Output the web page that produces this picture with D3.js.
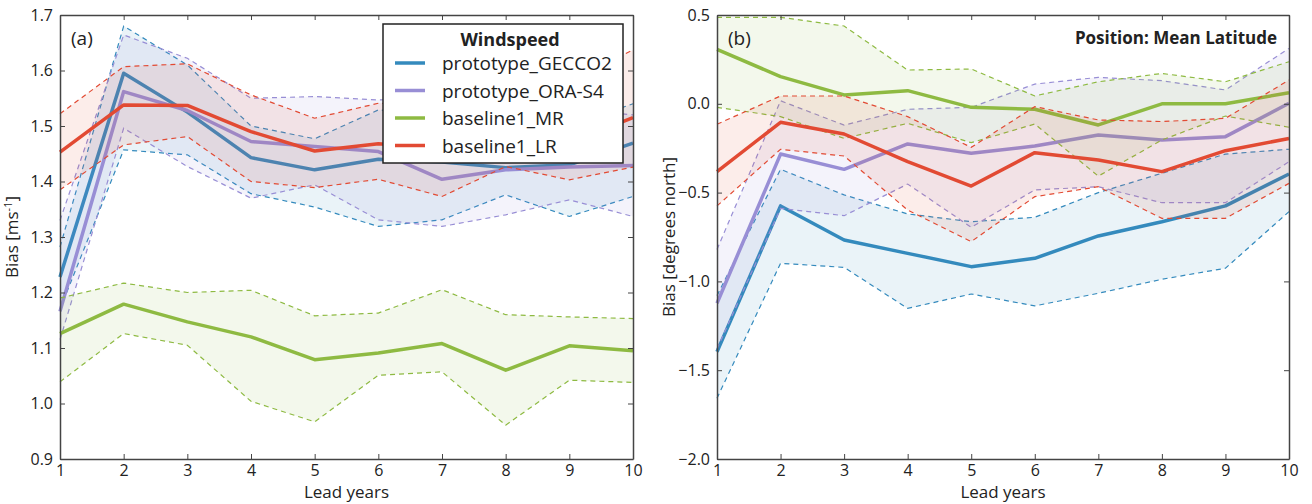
<!DOCTYPE html>
<html>
<head>
<meta charset="utf-8">
<script src="https://cdn.jsdelivr.net/npm/d3@7"></script>
<style>
  body { margin: 0; background: #fff; }
  text { font-family: "Open Sans", "DejaVu Sans", sans-serif; fill: #222; }
</style>
</head>
<body>
<script>
var leadYears = [1, 2, 3, 4, 5, 6, 7, 8, 9, 10];
var seriesNames = ["prototype_GECCO2", "prototype_ORA-S4", "baseline1_MR", "baseline1_LR"];
var colors = ["#348ABD", "#988ED5", "#8EBA42", "#E24A33"];

// panel (a) windspeed bias
var wsMean = [
  [1.228, 1.595, 1.525, 1.443, 1.421, 1.44, 1.435, 1.425, 1.43, 1.469],
  [1.166, 1.562, 1.528, 1.472, 1.463, 1.454, 1.404, 1.421, 1.426, 1.429],
  [1.126, 1.179, 1.147, 1.12, 1.079, 1.091, 1.108, 1.06, 1.104, 1.095],
  [1.453, 1.538, 1.537, 1.49, 1.455, 1.468, 1.46, 1.456, 1.47, 1.515]
];
var wsUpper = [
  [1.282, 1.68, 1.61, 1.5, 1.477, 1.529, 1.52, 1.51, 1.5, 1.54],
  [1.33, 1.664, 1.622, 1.55, 1.553, 1.547, 1.55, 1.54, 1.53, 1.52],
  [1.19, 1.217, 1.2, 1.204, 1.158, 1.163, 1.205, 1.16, 1.156, 1.153],
  [1.522, 1.607, 1.612, 1.556, 1.514, 1.541, 1.54, 1.56, 1.58, 1.637]
];
var wsLower = [
  [1.17, 1.457, 1.448, 1.378, 1.354, 1.319, 1.331, 1.376, 1.337, 1.373],
  [1.115, 1.496, 1.427, 1.37, 1.394, 1.331, 1.319, 1.34, 1.367, 1.337],
  [1.039, 1.126, 1.105, 1.004, 0.967, 1.051, 1.057, 0.961, 1.042, 1.038],
  [1.385, 1.466, 1.481, 1.4, 1.389, 1.404, 1.373, 1.427, 1.403, 1.426]
];

// panel (b) mean latitude bias
var latMean = [
  [-1.396, -0.575, -0.767, -0.842, -0.917, -0.87, -0.744, -0.664, -0.575, -0.395],
  [-1.123, -0.283, -0.369, -0.226, -0.279, -0.238, -0.176, -0.204, -0.185, 0.003],
  [0.307, 0.153, 0.05, 0.074, -0.02, -0.031, -0.119, 0.0, 0.0, 0.062],
  [-0.382, -0.104, -0.17, -0.326, -0.463, -0.275, -0.316, -0.382, -0.264, -0.195]
];
var latUpper = [
  [-1.08, -0.369, -0.513, -0.62, -0.664, -0.639, -0.5, -0.391, -0.283, -0.256],
  [-0.82, 0.017, -0.12, -0.031, -0.02, 0.111, 0.149, 0.13, 0.078, 0.312],
  [0.487, 0.487, 0.438, 0.19, 0.196, 0.044, 0.124, 0.171, 0.124, 0.237],
  [-0.115, 0.044, 0.044, -0.072, -0.245, -0.016, -0.091, -0.1, -0.082, 0.134]
];
var latLower = [
  [-1.658, -0.898, -0.921, -1.152, -1.071, -1.138, -1.067, -0.988, -0.926, -0.607],
  [-1.38, -0.589, -0.63, -0.452, -0.695, -0.485, -0.467, -0.557, -0.557, -0.326],
  [-0.02, -0.072, -0.195, -0.11, -0.219, -0.114, -0.407, -0.204, -0.069, -0.132],
  [-0.575, -0.256, -0.294, -0.598, -0.776, -0.523, -0.467, -0.645, -0.645, -0.448]
];

var wsTicks = [0.9, 1.0, 1.1, 1.2, 1.3, 1.4, 1.5, 1.6, 1.7];
var latTicks = [-2.0, -1.5, -1.0, -0.5, 0.0, 0.5];

var svg = d3.select("body").append("svg")
    .attr("width", 1312)
    .attr("height", 504);

function drawPanel(opts) {
  var x = d3.scaleLinear().domain([1, 10]).range([opts.left, opts.right]);
  var y = d3.scaleLinear().domain(opts.yDomain).range([459, 15]);
  var g = svg.append("g");

  var area = d3.area()
      .x(function(d, i) { return x(leadYears[i]); })
      .y0(function(d) { return y(d[0]); })
      .y1(function(d) { return y(d[1]); });
  var line = d3.line()
      .x(function(d, i) { return x(leadYears[i]); })
      .y(function(d) { return y(d); });

  for (var s = 0; s < 4; s++) {
    var band = opts.lower[s].map(function(v, i) { return [v, opts.upper[s][i]]; });
    g.append("path")
        .attr("d", area(band))
        .style("fill", colors[s])
        .style("fill-opacity", 0.1);
    [opts.upper[s], opts.lower[s]].forEach(function(arr) {
      g.append("path")
          .attr("d", line(arr))
          .style("fill", "none")
          .style("stroke", colors[s])
          .style("stroke-width", "1.2px")
          .style("stroke-dasharray", "5,4");
    });
    g.append("path")
        .attr("d", line(opts.mean[s]))
        .style("fill", "none")
        .style("stroke", colors[s])
        .style("stroke-width", "3.5px")
        .style("stroke-linejoin", "round");
  }

  var fmt = function(d) { return d3.format(".1f")(d).replace("-", "\u2212"); };

  var bottom = g.append("g").attr("transform", "translate(0,459)")
      .call(d3.axisBottom(x).tickValues(leadYears).tickSizeInner(-5).tickSizeOuter(0).tickPadding(6));
  var top = g.append("g").attr("transform", "translate(0,15)")
      .call(d3.axisTop(x).tickValues(leadYears).tickSizeInner(-5).tickSizeOuter(0).tickFormat(""));
  var left = g.append("g").attr("transform", "translate(" + opts.left + ",0)")
      .call(d3.axisLeft(y).tickValues(opts.ticks).tickSizeInner(-5).tickSizeOuter(0).tickPadding(7).tickFormat(fmt));
  var right = g.append("g").attr("transform", "translate(" + opts.right + ",0)")
      .call(d3.axisRight(y).tickValues(opts.ticks).tickSizeInner(-5).tickSizeOuter(0).tickFormat(""));

  [bottom, top, left, right].forEach(function(a) {
    a.select(".domain").style("stroke", "#444").style("stroke-width", "1.5px");
    a.selectAll(".tick line").style("stroke", "#444");
    a.selectAll("text").style("font-size", "16px").style("font-family", "Open Sans, DejaVu Sans, sans-serif").attr("fill", "#222");
  });

  g.append("text")
      .attr("x", (opts.left + opts.right) / 2)
      .attr("y", 498)
      .attr("text-anchor", "middle")
      .style("font-size", "17px")
      .text("Lead years");

  var yl = g.append("text")
      .attr("transform", "translate(" + (opts.left - 42) + ",237) rotate(-90)")
      .attr("text-anchor", "middle")
      .style("font-size", "17px");
  if (opts.unit) {
    yl.append("tspan").text("Bias [ms");
    yl.append("tspan").attr("dy", -6).style("font-size", "11px").text("-1");
    yl.append("tspan").attr("dy", 6).text("]");
  } else {
    yl.text(opts.yLabel);
  }

  g.append("text")
      .attr("x", opts.left + 11)
      .attr("y", 45)
      .style("font-size", "19px")
      .text(opts.tag);

  return { x: x, y: y, g: g };
}

drawPanel({
  left: 60, right: 633, yDomain: [0.9, 1.7], ticks: wsTicks,
  mean: wsMean, upper: wsUpper, lower: wsLower, tag: "(a)", unit: true
});

var pb = drawPanel({
  left: 717, right: 1289, yDomain: [-2.0, 0.5], ticks: latTicks,
  mean: latMean, upper: latUpper, lower: latLower, tag: "(b)", yLabel: "Bias [degrees north]"
});

pb.g.append("text")
    .attr("x", 1277)
    .attr("y", 44)
    .attr("text-anchor", "end")
    .style("font-size", "17px")
    .style("font-weight", "bold")
    .text("Position: Mean Latitude");

// legend
var legend = svg.append("g").attr("transform", "translate(383,24)");
legend.append("rect")
    .attr("width", 240)
    .attr("height", 139)
    .style("fill", "#fff")
    .style("stroke", "#222")
    .style("stroke-width", "1.5px");
legend.append("text")
    .attr("x", 127)
    .attr("y", 22)
    .attr("text-anchor", "middle")
    .style("font-size", "18px")
    .style("font-weight", "bold")
    .text("Windspeed");
seriesNames.forEach(function(name, i) {
  var yy = 39 + i * 27.5;
  legend.append("line")
      .attr("x1", 12).attr("x2", 42)
      .attr("y1", yy).attr("y2", yy)
      .style("stroke", colors[i])
      .style("stroke-width", "3.5px");
  legend.append("text")
      .attr("x", 59)
      .attr("y", yy + 7)
      .style("font-size", "19px")
      .text(name);
});
</script>
</body>
</html>
